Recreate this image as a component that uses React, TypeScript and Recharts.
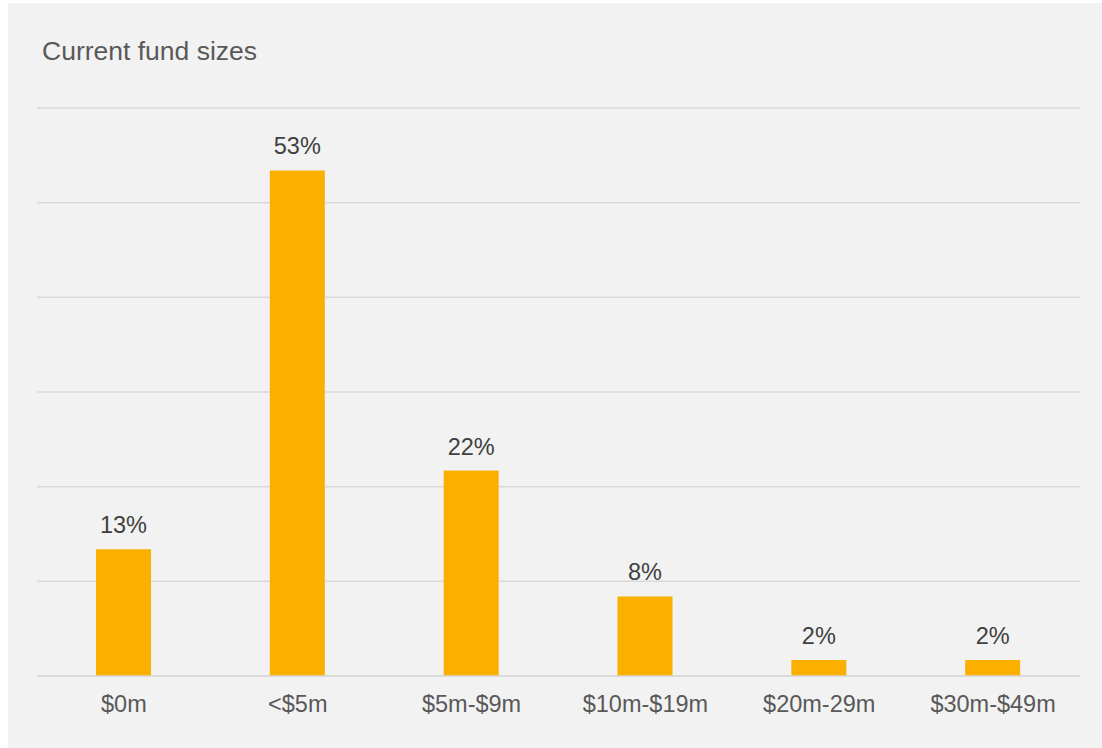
import React from 'react';
import { BarChart, Bar, XAxis, YAxis, CartesianGrid, LabelList } from 'recharts';

const categories = ['$0m', '<$5m', '$5m-$9m', '$10m-$19m', '$20m-29m', '$30m-$49m'];
// shares; labels show the rounded value
const shares = [13.4, 53.4, 21.7, 8.4, 1.7, 1.7];
const yTicks = [0, 10, 20, 30, 40, 50, 60];

const data = categories.map((name, i) => ({ name, share: shares[i] }));

const font = 'Arial, "Liberation Sans", Helvetica, sans-serif';

const App: React.FC = () => {
  return (
    <div style={{ position: 'absolute', left: 0, top: 0, width: 1102, height: 748, overflow: 'hidden' }}>
      <div
        style={{
          position: 'absolute',
          left: 8,
          top: 3,
          width: 1094,
          height: 745,
          background: '#f2f2f2',
          fontFamily: font,
        }}
      >
        <div
          style={{
            position: 'absolute',
            left: 34,
            top: 33,
            fontSize: 26.5,
            lineHeight: '30px',
            color: '#595959',
          }}
        >
          Current fund sizes
        </div>
        <BarChart
          width={1094}
          height={745}
          data={data}
          margin={{ top: 105, right: 22, bottom: 32, left: 29 }}
          barCategoryGap={0}
        >
          <CartesianGrid vertical={false} stroke="#d9d9d9" strokeWidth={1.5} />
          <YAxis hide domain={[0, 60]} ticks={yTicks} width={0} />
          <XAxis
            dataKey="name"
            height={40}
            axisLine={{ stroke: '#d9d9d9', strokeWidth: 1.5 }}
            tickLine={false}
            tickSize={0}
            tickMargin={19}
            tick={{ fill: '#595959', fontSize: 23.5, fontFamily: font }}
            interval={0}
          />
          <Bar dataKey="share" fill="#fbb000" barSize={55} isAnimationActive={false}>
            <LabelList
              dataKey="share"
              position="top"
              offset={16}
              formatter={(v: number) => `${Math.round(v)}%`}
              style={{ fill: '#404040', fontSize: 23.5, fontFamily: font }}
            />
          </Bar>
        </BarChart>
      </div>
    </div>
  );
};

export default App;
